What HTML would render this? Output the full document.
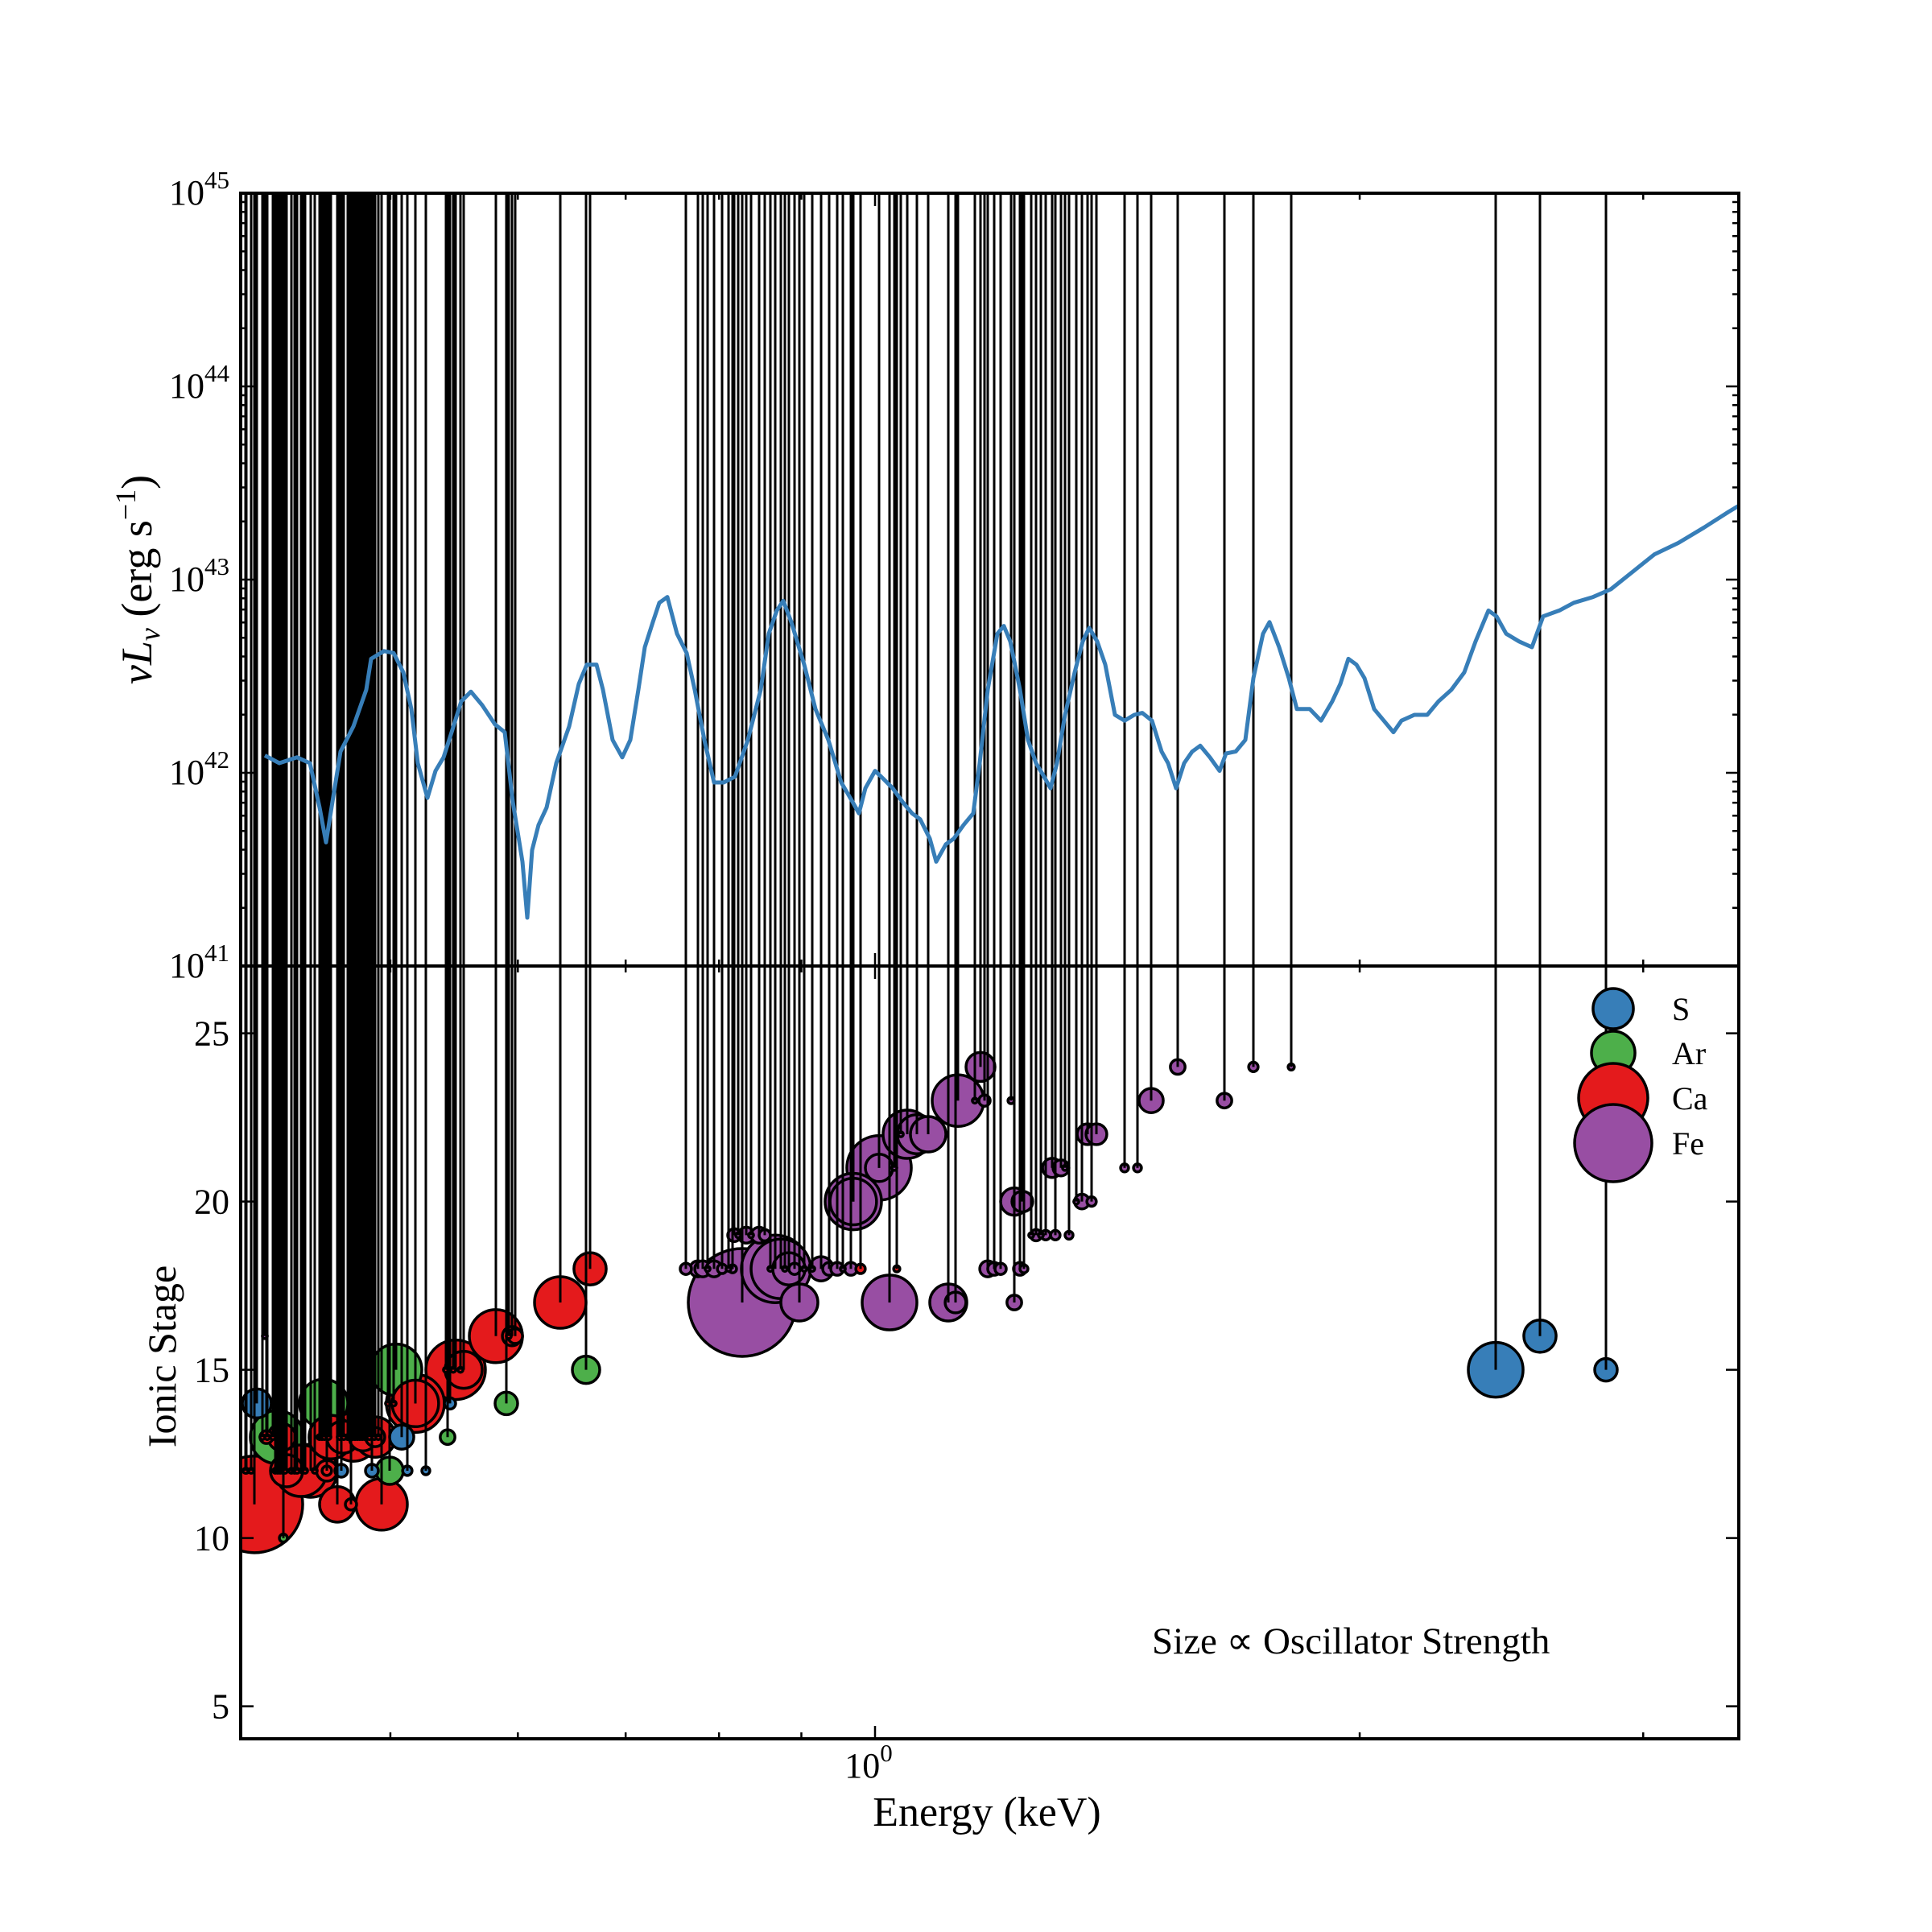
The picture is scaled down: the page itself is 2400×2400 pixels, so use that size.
<!DOCTYPE html>
<html><head><meta charset="utf-8"><style>
html,body{margin:0;padding:0;background:#fff}
svg{display:block}
text{font-family:"Liberation Serif",serif;fill:#000}
</style></head><body>
<svg id="chart" width="2400" height="2400" viewBox="0 0 2400 2400" xmlns="http://www.w3.org/2000/svg">
<defs>
<clipPath id="clipTop"><rect x="299" y="240" width="1861" height="960"/></clipPath>
<clipPath id="clipBot"><rect x="299" y="1200" width="1861" height="960"/></clipPath>
</defs>
<g id="marks-lines" clip-path="url(#clipTop)"></g>
<g id="marks-bot" clip-path="url(#clipBot)"></g>
<g id="marks-spec" clip-path="url(#clipTop)"></g>
<g id="axes"></g>
<g id="legend"></g>
<text transform="translate(188,720) rotate(-90)" text-anchor="middle" font-size="54"><tspan font-style="italic">νL</tspan><tspan font-style="italic" font-size="36" dy="10">ν</tspan><tspan dy="-10"> (erg s</tspan><tspan font-size="36" dy="-20">−1</tspan><tspan dy="20">)</tspan></text>
<text transform="translate(218,1685) rotate(-90)" text-anchor="middle" font-size="50">Ionic Stage</text>
<text x="1226" y="2268" text-anchor="middle" font-size="52">Energy (keV)</text>
<text x="1431" y="2054" font-size="47">Size ∝ Oscillator Strength</text>
</svg>
<script>
// ---- spectrum data (log10 keV, log10 erg/s) ----
const specLogE = [-0.379,-0.370,-0.359,-0.351,-0.345,-0.341,-0.337,-0.332,-0.324,-0.316,-0.313,-0.305,-0.299,-0.293,-0.288,-0.284,-0.278,-0.273,-0.268,-0.263,-0.257,-0.251,-0.244,-0.236,-0.230,-0.225,-0.219,-0.216,-0.213,-0.209,-0.204,-0.198,-0.190,-0.184,-0.179,-0.173,-0.169,-0.163,-0.157,-0.152,-0.147,-0.143,-0.138,-0.134,-0.129,-0.123,-0.117,-0.112,-0.106,-0.100,-0.094,-0.087,-0.079,-0.071,-0.066,-0.061,-0.057,-0.052,-0.044,-0.037,-0.029,-0.021,-0.014,-0.010,-0.006,0.000,0.005,0.011,0.017,0.023,0.028,0.034,0.038,0.044,0.049,0.055,0.061,0.065,0.070,0.076,0.080,0.084,0.090,0.095,0.100,0.105,0.109,0.113,0.118,0.124,0.129,0.133,0.138,0.143,0.149,0.155,0.161,0.166,0.172,0.178,0.182,0.187,0.192,0.197,0.202,0.208,0.214,0.218,0.224,0.230,0.235,0.241,0.245,0.251,0.257,0.262,0.270,0.277,0.284,0.289,0.294,0.299,0.304,0.310,0.316,0.322,0.327,0.335,0.343,0.350,0.358,0.366,0.373,0.381,0.386,0.392,0.400,0.408,0.415,0.425,0.434,0.446,0.457,0.469,0.484,0.499,0.515,0.530,0.538];
const specLogL = [42.09,42.05,42.08,42.05,41.82,41.64,41.85,42.11,42.24,42.43,42.59,42.63,42.62,42.52,42.33,42.05,41.87,42.01,42.08,42.21,42.37,42.42,42.35,42.25,42.21,41.85,41.54,41.25,41.60,41.73,41.82,42.05,42.24,42.46,42.56,42.56,42.43,42.17,42.08,42.17,42.43,42.65,42.78,42.88,42.91,42.72,42.62,42.43,42.17,41.95,41.95,41.98,42.17,42.43,42.72,42.84,42.89,42.78,42.56,42.33,42.17,41.95,41.85,41.79,41.92,42.01,41.97,41.92,41.85,41.79,41.76,41.66,41.54,41.63,41.66,41.73,41.79,42.05,42.43,42.72,42.76,42.68,42.43,42.17,42.05,41.98,41.92,42.05,42.30,42.52,42.68,42.75,42.68,42.56,42.30,42.27,42.30,42.31,42.27,42.11,42.05,41.92,42.05,42.11,42.14,42.08,42.01,42.10,42.11,42.17,42.49,42.72,42.78,42.65,42.49,42.33,42.33,42.27,42.37,42.46,42.59,42.56,42.49,42.33,42.27,42.21,42.27,42.30,42.30,42.37,42.43,42.52,42.68,42.84,42.81,42.72,42.68,42.65,42.81,42.84,42.88,42.91,42.95,43.03,43.13,43.19,43.27,43.35,43.39];

// ---- transitions per element: log10 energy, ionic stage, oscillator strength ----
const sLogE = [-0.384,-0.294,-0.3315,-0.3125,-0.2905,-0.279,-0.264,0.3855,0.413,0.454];
const sStage = [14,13,12,12,12,12,14,15,16,15];
const sOsc = [0.066,0.046,0.013,0.013,0.007,0.005,0.010,0.236,0.082,0.040];

const arLogE = [-0.3715,-0.3425,-0.2975,-0.3015,-0.2655,-0.229,-0.1795,-0.3675];
const arStage = [13,14,15,12,13,14,15,10];
const arOsc = [0.222,0.184,0.209,0.059,0.017,0.040,0.059,0.005];

const caLogE = [-0.3855,-0.3905,-0.378,-0.3685,-0.3655,-0.3565,-0.3505,-0.3405,-0.3405,-0.324,-0.3105,-0.3305,-0.3105,-0.334,-0.3255,-0.3065,-0.2855,-0.2855,-0.2605,-0.2555,-0.2355,-0.2255,-0.2235,-0.1955,-0.177,-0.009,0.0135,-0.338,-0.318];
const caStage = [11,12,13,13,12,12,12,12,12,13,13,13,13,11,11,11,14,14,15,15,16,16,16,17,18,18,18,13,13];
const caOsc = [0.735,0.002,0.013,0.059,0.082,0.209,0.222,0.034,0.007,0.184,0.128,0.082,0.029,0.099,0.010,0.209,0.264,0.17,0.279,0.108,0.222,0.029,0.017,0.209,0.082,0.007,0.003,0.15,0.06];

const feLogE = [-0.379,-0.1175,-0.11,-0.107,-0.1,-0.095,-0.0885,-0.062,-0.0585,-0.0535,-0.05,-0.0335,-0.0285,-0.0235,-0.015,0.07,0.074,0.078,0.09,0.0925,-0.0825,-0.047,0.009,0.0455,0.05,0.0865,-0.0875,-0.08,-0.072,-0.0685,0.1,0.106,0.112,0.1205,-0.0135,-0.0135,0.0865,0.0915,0.1285,0.1345,0.0025,0.0025,0.11,0.1155,0.155,0.163,0.02,0.033,0.026,0.132,0.1375,0.0515,0.068,0.0845,0.1715,0.217,0.0655,0.188,0.235,0.2585];
const feStage = [16,18,18,18,18,18,18,18,18,18,18,18,18,18,18,18,18,18,18,18,17,17,17,17,17,17,19,19,19,19,19,19,19,19,20,20,20,20,20,20,21,21,21,21,21,21,22,22,22,22,22,23,23,23,23,23,24,24,24,24];
const feOsc = [0.002,0.010,0.020,0.020,0.020,0.007,0.005,0.36,0.279,0.082,0.010,0.046,0.013,0.013,0.013,0.020,0.013,0.010,0.013,0.005,0.916,0.108,0.236,0.108,0.034,0.017,0.013,0.020,0.020,0.010,0.010,0.007,0.007,0.005,0.25,0.17,0.059,0.034,0.017,0.007,0.327,0.059,0.029,0.020,0.005,0.005,0.184,0.099,0.12,0.034,0.034,0.209,0.010,0.003,0.046,0.017,0.066,0.017,0.007,0.003];

// weak blended Ca lines (dense bands)
const caWeakLogE = [-0.3725,-0.371,-0.3695,-0.368,-0.3665,-0.345,-0.3435,-0.342,-0.3395,-0.3275,-0.326,-0.3245,-0.323,-0.3215,-0.32,-0.3185,-0.317,-0.3155,-0.314,-0.311,-0.3085,-0.391,-0.3875,-0.3805,-0.3775,-0.374,-0.3625,-0.3605,-0.359,-0.3555,-0.354,-0.348,-0.3325,-0.33,-0.3025,-0.299,-0.2665,-0.262,-0.2575,-0.2275];
const caWeakStage = [12,12,12,12,12,13,13,13,13,13,13,13,13,13,13,13,13,13,13,13,13,12,12,13,13,13,12,12,12,12,12,12,13,13,14,14,15,15,15,16];
// weak blended Fe lines
const feWeakLogE = [-0.104,-0.091,-0.085,-0.077,-0.065,-0.056,-0.044,-0.039,-0.02,0.012,0.016,0.062,0.097,0.103,0.118,0.125];
const feWeakStage = [18,18,19,19,18,18,18,18,18,21,22,23,19,19,21,20];

const legendNames = ['S','Ar','Ca','Fe'];
const legendOsc = [0.128,0.149,0.377,0.47];

// ---- axes ----
const X0=299, X1=2160, PXDEC=2000, XREF=1087;
const xS = le => XREF + le*PXDEC;
const yTop = ll => 240 + (45-ll)*240;
const yBot = st => 1200 + (27-st)*41.8;
const rOf = f => 70*Math.sqrt(f);
const NS='http://www.w3.org/2000/svg';
function mk(tag, attrs, parent){const e=document.createElementNS(NS,tag);for(const k in attrs)e.setAttribute(k,attrs[k]);parent.appendChild(e);return e;}

const colors = {S:'#377eb8',Ar:'#4daf4a',Ca:'#e41a1c',Fe:'#984ea3'};
const all=[];
function addSet(name,E,St,F){for(let i=0;i<E.length;i++)all.push({el:name,e:E[i],s:St[i],f:F[i]});}
addSet('S',sLogE,sStage,sOsc);
addSet('Ar',arLogE,arStage,arOsc);
addSet('Ca',caLogE,caStage,caOsc);
addSet('Fe',feLogE,feStage,feOsc);
for(let i=0;i<caWeakLogE.length;i++)all.push({el:'Ca',e:caWeakLogE[i],s:caWeakStage[i],f:0.002});
for(let i=0;i<feWeakLogE.length;i++)all.push({el:'Fe',e:feWeakLogE[i],s:feWeakStage[i],f:0.002});

const gBot=document.getElementById('marks-bot');
const gLines=document.getElementById('marks-lines');
const sorted=all.slice().sort((a,b)=>b.f-a.f);
sorted.forEach(d=>{
  const c=mk('circle',{cx:xS(d.e),cy:yBot(d.s),r:rOf(d.f),fill:colors[d.el],stroke:'#000','stroke-width':3.5},gBot);
  
  
});
const gBotLines=mk('g',{},gBot);
all.forEach(d=>{
  const x=xS(d.e);
  const l=mk('line',{x1:x,x2:x,y1:240,y2:1200,stroke:'#000','stroke-width':3},gLines);
  
  
  const l2=mk('line',{x1:x,x2:x,y1:1200,y2:yBot(d.s),stroke:'#000','stroke-width':3},gBotLines);
  
  
});

// spectrum
const gSpec=document.getElementById('marks-spec');
let dstr='';
for(let i=0;i<specLogE.length;i++){dstr+=(i?'L':'M')+xS(specLogE[i]).toFixed(1)+' '+yTop(specLogL[i]).toFixed(1);}
const sp=mk('path',{d:dstr,fill:'none',stroke:'#377eb8','stroke-width':5,'stroke-linejoin':'round'},gSpec);



// axes frames & ticks
const gA=document.getElementById('axes');
const tk={stroke:'#000','stroke-width':2.5};
const yMajTop=[41,42,43,44,45];
const yTickBot=[5,10,15,20,25];
const xMinor=[0.5,0.6,0.7,0.8,0.9,2,3];
const xMajor=[1];
for(let dec=41;dec<45;dec++){for(let m=2;m<10;m++){const y=yTop(dec+Math.log10(m));mk('line',Object.assign({x1:X0,x2:X0+8,y1:y,y2:y},tk),gA);mk('line',Object.assign({x1:X1,x2:X1-8,y1:y,y2:y},tk),gA);}}
yMajTop.forEach(v=>{const y=yTop(v);mk('line',Object.assign({x1:X0,x2:X0+16,y1:y,y2:y},tk),gA);mk('line',Object.assign({x1:X1,x2:X1-16,y1:y,y2:y},tk),gA);
  const t=mk('text',{x:X0-14,y:y+14,'text-anchor':'end','font-size':44},gA);
  
  
  t.innerHTML='10<tspan font-size="31" dy="-20">'+v+'</tspan>';
});
yTickBot.forEach(v=>{const y=yBot(v);mk('line',Object.assign({x1:X0,x2:X0+16,y1:y,y2:y},tk),gA);mk('line',Object.assign({x1:X1,x2:X1-16,y1:y,y2:y},tk),gA);
  const t=mk('text',{x:X0-14,y:y+15,'text-anchor':'end','font-size':44},gA);
  
  
  t.textContent=v;
});
function xt(v,len){const x=xS(Math.log10(v));
  [[240,1],[1200,-1],[1200,1],[2160,-1]].forEach(([y,dir])=>mk('line',Object.assign({x1:x,x2:x,y1:y,y2:y+dir*len},tk),gA));}
xMinor.forEach(v=>xt(v,8));
xMajor.forEach(v=>{xt(v,16);const t=mk('text',{x:xS(Math.log10(v))-8,y:2208,'text-anchor':'middle','font-size':44},gA);
  
  
  t.innerHTML='10<tspan font-size="31" dy="-20">0</tspan>';});
const f1=mk('rect',{x:X0,y:240,width:X1-X0,height:960,fill:'none',stroke:'#000','stroke-width':4},gA);

const f2=mk('rect',{x:X0,y:1200,width:X1-X0,height:960,fill:'none',stroke:'#000','stroke-width':4},gA);


// legend
const gL=document.getElementById('legend');
const legY=[1253,1308,1364,1420];
legendNames.forEach((n,i)=>{
  const c=mk('circle',{cx:2004,cy:legY[i],r:rOf(legendOsc[i]),fill:colors[n],stroke:'#000','stroke-width':3.5},gL);
  
  
  const t=mk('text',{x:2077,y:legY[i]+14,'font-size':40},gL);
  
  
  t.textContent=n;
});
</script>
</body></html>
